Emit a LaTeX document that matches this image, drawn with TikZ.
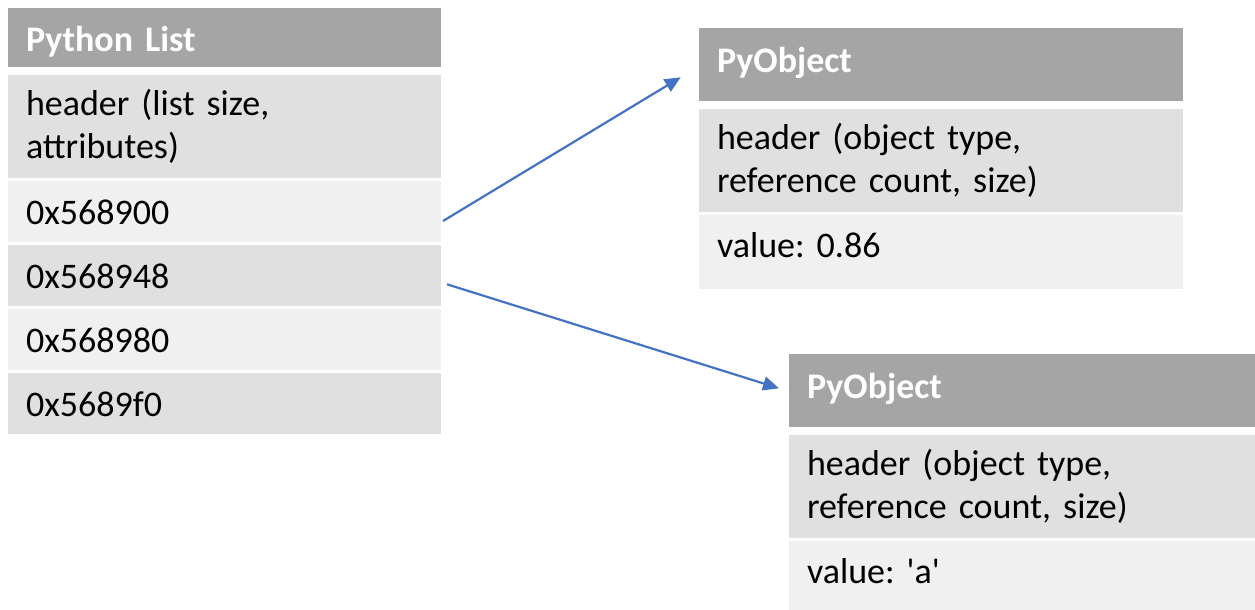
\documentclass[tikz,border=0pt]{standalone}
\usepackage{fontspec}
\setmainfont{Carlito}
\usetikzlibrary{positioning,arrows.meta}

\definecolor{headgray}{HTML}{A5A5A5}
\definecolor{rowdark}{HTML}{E0E0E0}
\definecolor{rowlight}{HTML}{F0F0F0}
\definecolor{ptrblue}{HTML}{4472C4}

\tikzset{
  cell/.style={rectangle, inner xsep=18pt, inner ysep=0pt, outer sep=0pt,
    font=\frenchspacing\fontsize{36}{43}\selectfont},
  listw/.style={text width=397pt},
  objw/.style={text width=448pt},
  headrow/.style={cell, fill=headgray, text=white, text height=44pt, text depth=#1,
    font=\frenchspacing\bfseries\fontsize{36}{43}\selectfont},
  inforow/.style={cell, fill=rowdark, text height=40pt, text depth=63pt},
  addrrow/.style={cell, fill=#1, text height=43pt, text depth=18pt},
  valrow/.style={cell, fill=rowlight, text height=42pt, text depth=32pt},
  ptr/.style={-{Triangle[length=16pt,width=14pt]}, line width=2.2pt, ptrblue}
}

\begin{document}
\begin{tikzpicture}[x=1pt, y=-1pt]
  \useasboundingbox (0,0) rectangle (1255,610);

  % list
  \node[headrow=15pt, listw, anchor=north west] (lhead) at (8,8) {Python List};
  \node[inforow, listw, below=8pt of lhead] (linfo) {\parbox[t]{397pt}{header (list size,\\attributes)}};
  \node[addrrow=rowlight, listw, below=3pt of linfo] (la) {0x568900};
  \node[addrrow=rowdark, listw, below=3pt of la] (lb) {0x568948};
  \node[addrrow=rowlight, listw, below=3pt of lb] (lc) {0x568980};
  \node[addrrow=rowdark, listw, below=3pt of lc] (ld) {0x5689f0};

  % objects
  \node[headrow=29pt, objw, anchor=north west] (ohead) at (699,28) {PyObject};
  \node[inforow, objw, below=8pt of ohead] (oinfo) {\parbox[t]{448pt}{header (object type,\\reference count, size)}};
  \node[valrow, objw, below=3pt of oinfo] (oval) {value: 0.86};

  \node[headrow=29pt, objw, anchor=north west] (bhead) at (789,354) {PyObject};
  \node[inforow, objw, below=8pt of bhead] (binfo) {\parbox[t]{448pt}{header (object type,\\reference count, size)}};
  \node[valrow, objw, below=3pt of binfo] (bval) {value: \textquotesingle a\textquotesingle};

  \coordinate (pa) at ([shift={(2,9.5)}]la.east);
  \coordinate (pb) at ([shift={(6,8.8)}]lb.east);
  \coordinate (ta) at ([shift={(-18.3,12.8)}]ohead.west);
  \coordinate (tb) at ([shift={(-10,-2.2)}]bhead.west);
  \draw[ptr] (pa) -- (ta);
  \draw[ptr] (pb) -- (tb);
\end{tikzpicture}
\end{document}
